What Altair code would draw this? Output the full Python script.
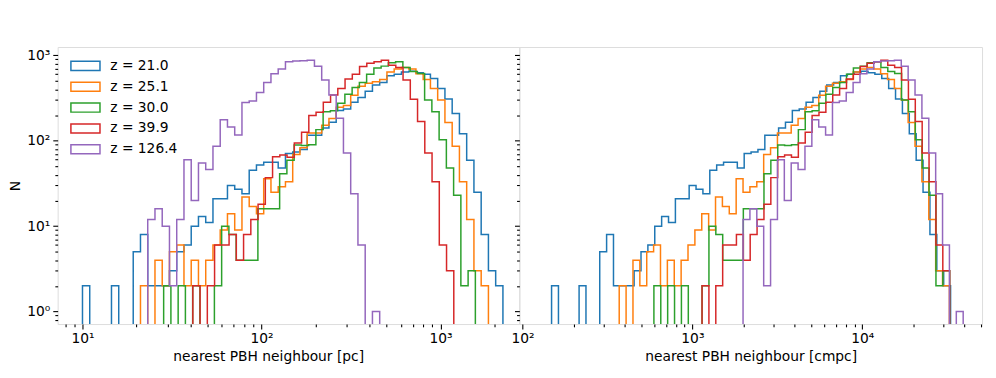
import altair as alt
import numpy as np
import pandas as pd

# ---------------- data ----------------
labels = ["z = 21.0", "z = 25.1", "z = 30.0", "z = 39.9", "z = 126.4"]
redshifts = [21.0, 25.1, 30.0, 39.9, 126.4]
colors = ["#1f77b4", "#ff7f0e", "#2ca02c", "#d62728", "#9467bd"]

# log-spaced bins: width in dex, and log10(pc) of each series' first bin edge
bin_width_dex = 0.0405
first_edge_log_pc = [1.000, 1.324, 1.4535, 1.6165, 1.3645]
hubble_h = 0.674  # physical pc -> comoving pc : r * (1+z) * h

counts_z21 = [2, 0, 0, 0, 2, 0, 0, 5, 8, 2, 2, 2, 3, 5, 6, 10, 13, 11, 21, 21, 30, 27, 24, 45,
              52, 56, 56, 48, 71, 74, 79, 116, 116, 141, 165, 226, 236, 282, 320, 380, 450,
              482, 576, 600, 640, 650, 625, 600, 537, 410, 308, 208, 121, 59, 25, 8, 3, 2]
counts_z25 = [2, 0, 4, 2, 5, 6, 2, 4, 2, 4, 6, 9, 14, 9, 22, 17, 14, 36, 25, 29, 33, 69, 83,
              123, 123, 152, 182, 246, 258, 340, 435, 470, 490, 520, 640, 690, 720, 690, 610,
              520, 410, 300, 164, 86, 33, 12, 3, 2]
counts_z30 = [2, 0, 2, 0, 2, 0, 0, 2, 10, 8, 4, 4, 4, 16, 16, 16, 41, 59, 89, 88, 90, 135, 218,
              224, 275, 350, 420, 480, 600, 713, 748, 818, 840, 721, 646, 614, 300, 218, 103,
              48, 23, 2, 3]
counts_z40 = [2, 0, 2, 6, 6, 8, 4, 8, 12, 18, 37, 65, 68, 64, 94, 126, 198, 216, 282, 344, 410,
              527, 600, 740, 810, 840, 877, 767, 721, 514, 306, 168, 72, 33, 6, 3]
counts_z126 = [12, 16, 10, 2, 12, 60, 20, 55, 46, 86, 176, 145, 117, 280, 293, 368, 482, 610,
               690, 840, 857, 866, 875, 745, 514, 344, 184, 72, 24, 6, 0, 1]
all_counts = [counts_z21, counts_z25, counts_z30, counts_z40, counts_z126]

# axis tick values
major_y = [1, 10, 100, 1000]
minor_y = [0.8, 0.9] + [m * 10 ** p for p in range(0, 3) for m in range(2, 10)]
major_x_pc = [10, 100, 1000]
minor_x_pc = [8, 9] + [m * 10 ** p for p in range(1, 3) for m in range(2, 10)] + [2000]
major_x_cmpc = [100, 1000, 10000]
minor_x_cmpc = [m * 10 ** p for p in range(2, 4) for m in range(2, 10)] + [20000, 30000, 40000, 50000]

x_dom_pc = [7.265, 2759]
x_dom_cmpc = [95.8, 50740]
y_dom = [0.714, 1252]

# ---------------- build step outlines ----------------
FLOOR = 0.01  # empty bins drop below the axis (clipped)
rows = []
for lab, z, start, counts in zip(labels, redshifts, first_edge_log_pc, all_counts):
    shift = np.log10((1 + z) * hubble_h)
    for unit, off in (("pc", 0.0), ("cmpc", shift)):
        n = len(counts)
        edges = [10 ** (start + off + k * bin_width_dex) for k in range(n + 1)]
        ys = [c if c > 0 else FLOOR for c in counts]
        pts = [(edges[0], FLOOR)]
        for k in range(n):
            pts.append((edges[k], ys[k]))
            pts.append((edges[k + 1], ys[k]))
        pts.append((edges[n], FLOOR))
        for i, (x, y) in enumerate(pts):
            rows.append({"unit": unit, "series": lab, "i": i, "x": x, "y": y})
df = pd.DataFrame(rows)

SUP = {0: "\u2070", 1: "\u00b9", 2: "\u00b2", 3: "\u00b3", 4: "\u2074"}
label_expr = " : ".join(f"datum.value == {10 ** p} ? '10{SUP[p]}'" for p in range(5)) + " : ''"

FONT = "DejaVu Sans"
FS = 13.9
TW = 1.1


def major_axis(values, orient, labels_on=True, title=None, title_x=None):
    kw = dict(values=values, orient=orient, labelExpr=label_expr, labels=labels_on,
              tickSize=4.9, tickWidth=TW, tickColor="black", domain=False, grid=False,
              labelFont=FONT, labelFontSize=FS, labelColor="black", labelPadding=3,
              labelFlush=False, labelOverlap=False, titleFont=FONT, titleFontSize=FS,
              titleFontWeight="normal", titleColor="black")
    if title is not None:
        kw["title"] = title
        kw["titlePadding"] = 4
        if title_x is not None:
            kw["titleX"] = title_x
    else:
        kw["title"] = None
    return alt.Axis(**kw)


def minor_axis(values, orient):
    return alt.Axis(values=values, orient=orient, labels=False, tickSize=2.8, tickWidth=TW,
                    tickColor="black", domain=False, grid=False, title=None)


color_scale = alt.Scale(domain=labels, range=colors)


def panel(unit, xdom, xmaj, xmin, xtitle, title_x, ylabels, legend, width):
    d = df[df["unit"] == unit]
    xs = alt.Scale(type="log", domain=xdom, nice=False)
    ys = alt.Scale(type="log", domain=y_dom, nice=False)
    lines = alt.Chart(d).mark_line(clip=True, strokeWidth=1.5).encode(
        x=alt.X("x:Q", scale=xs, axis=major_axis(xmaj, "bottom", True, xtitle, title_x)),
        y=alt.Y("y:Q", scale=ys, axis=major_axis(major_y, "left", ylabels, "N" if ylabels else None)),
        color=alt.Color("series:N", scale=color_scale, legend=legend),
        order="i:Q",
    )
    minor = alt.Chart(d).mark_line(clip=True, opacity=0).encode(
        x=alt.X("x:Q", scale=xs, axis=minor_axis(xmin, "bottom")),
        y=alt.Y("y:Q", scale=ys, axis=minor_axis(minor_y, "left")),
        detail="series:N",
        order="i:Q",
    )
    return alt.layer(lines, minor).resolve_axis(x="independent", y="independent").properties(
        width=width, height=279)


legend = alt.Legend(title=None, orient="none", legendX=18, legendY=9,
                    symbolType="M-1.6,-0.5L1.6,-0.5L1.6,0.5L-1.6,0.5Z", symbolSize=335,
                    symbolStrokeWidth=1.5, symbolFillColor="transparent",
                    labelFont=FONT, labelFontSize=FS, labelColor="black",
                    labelOffset=15, rowPadding=3, padding=0)

left = panel("pc", x_dom_pc, major_x_pc, minor_x_pc, "nearest PBH neighbour [pc]", 212,
             True, legend, 465)
right = panel("cmpc", x_dom_cmpc, major_x_cmpc, minor_x_cmpc, "nearest PBH neighbour [cmpc]", None,
              False, None, 466)

chart = alt.hconcat(left, right, spacing=0, bounds="flush").resolve_legend(
    color="independent").properties(
    padding={"left": 0, "top": 37, "right": 5, "bottom": 5}
).configure_view(stroke="black", strokeWidth=TW).configure(font=FONT)

chart.save("out.html", embed_options={"renderer": "svg", "actions": False})
